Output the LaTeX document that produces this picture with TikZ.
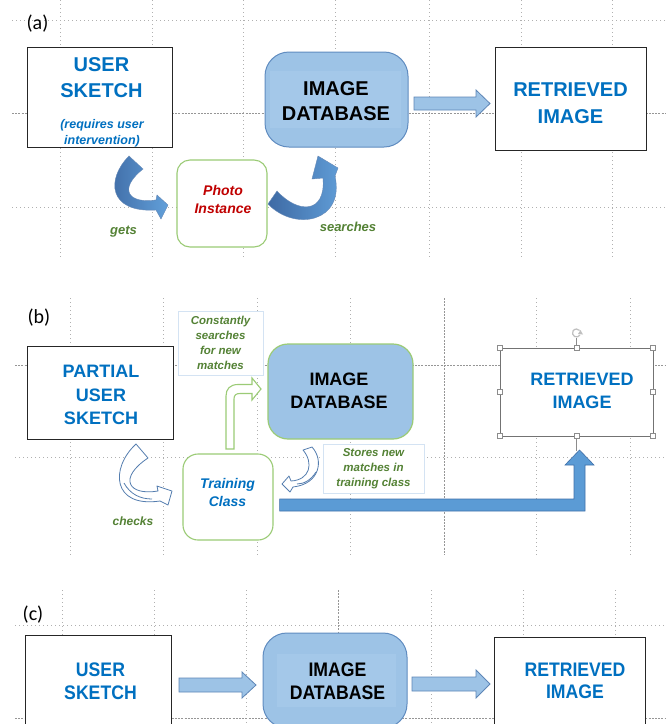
\documentclass[tikz,border=0pt]{standalone}
\usepackage{fontspec}
\setmainfont{Liberation Sans}
\newfontfamily\labelfont{Carlito}
\newfontfamily\narrowsans[FakeStretch=0.9]{Liberation Sans}
\usetikzlibrary{calc}
\definecolor{tblue}{RGB}{0,112,192}
\definecolor{tgreen}{RGB}{84,130,53}
\definecolor{tred}{RGB}{192,0,0}
\definecolor{dbfill}{RGB}{157,195,230}
\definecolor{dbinner}{RGB}{164,200,233}
\definecolor{dbline}{RGB}{96,140,192}
\definecolor{boxgreen}{RGB}{155,203,118}
\definecolor{arrdark}{RGB}{62,106,164}
\definecolor{arrlight}{RGB}{98,160,218}
\definecolor{solidblue}{RGB}{91,155,213}
\definecolor{solidline}{RGB}{65,113,170}
\definecolor{outlineblue}{RGB}{84,125,175}
\definecolor{notebox}{RGB}{212,227,243}
\definecolor{gridgray}{RGB}{150,150,150}

% straight block arrow: start, tip, shaft half height, head half height
\newcommand\blockarrow[4]{%
  \path[flatarrow] let \p1=(#1), \p2=(#2) in
    (\x1,\y1+#3pt) -- (\x2-14pt,\y1+#3pt) -- (\x2-14pt,\y1+#4pt) -- (\x2,\y1)
    -- (\x2-14pt,\y1-#4pt) -- (\x2-14pt,\y1-#3pt) -- (\x1,\y1-#3pt) -- cycle;}

\begin{document}
\begin{tikzpicture}[x=1pt,y=-1pt,
  grid/.style={gridgray!75, line width=0.7pt, dash pattern=on 0.8pt off 3.2pt},
  gridc/.style={gridgray, line width=0.6pt, dash pattern=on 2pt off 1.2pt},
  plainbox/.style={draw=black!85, line width=1pt, fill=white, inner sep=0pt},
  selbox/.style={draw=black!55, line width=1pt, fill=white, inner sep=0pt},
  dbbox/.style={draw=dbline, line width=1pt, fill=dbfill, rounded corners=24pt, inner sep=0pt},
  dbboxg/.style={draw=boxgreen, line width=1.2pt, fill=dbfill, rounded corners=20pt, inner sep=0pt},
  dbin/.style={fill=dbinner, inner sep=0pt},
  greenbox/.style={draw=boxgreen, line width=1.1pt, fill=white, inner sep=0pt},
  notebox/.style={draw=notebox, line width=0.9pt, fill=white, inner sep=0pt},
  captxt/.style={text=tblue, align=center, inner sep=0pt},
  dbtxt/.style={text=black, align=center, inner sep=0pt},
  flatarrow/.style={fill=dbfill, draw=solidline!85, line width=0.8pt, line join=miter},
  curvefill/.style={left color=arrdark, right color=arrlight, draw=arrdark!80, line width=0.4pt},
  curveline/.style={draw=outlineblue, fill=white, line width=0.8pt, line join=round},
  handle/.style={draw=black!45, fill=white, line width=0.5pt},
  handleline/.style={draw=black!45, line width=0.8pt},
  panel/.style={font=\labelfont\fontsize{20}{24}\selectfont, inner sep=0pt}]

\useasboundingbox (0,0) rectangle (666,724);
\fill[white] (0,0) rectangle (666,724);
\clip (0,0) rectangle (666,724);

% ---------- guide lines ----------
\foreach \x in {60,152,243,429,521,612} \draw[grid] (\x,0) -- (\x,258);
\draw[grid] (335,0) -- (335,258);
\foreach \y in {20,207} \draw[grid] (12,\y) -- (666,\y);
\draw[gridc] (12,113) -- (666,113);

\foreach \x in {70,163,257,350,536,630} \draw[grid] (\x,298) -- (\x,555);
\draw[gridc] (444,298) -- (444,555);
\draw[grid] (15,457) -- (666,457);
\draw[gridc] (15,365) -- (666,365);

\foreach \x in {62,154,246,431,523,615} \draw[grid] (\x,590) -- (\x,724);
\draw[gridc] (338,590) -- (338,724);
\draw[grid] (15,625) -- (666,625);
\draw[gridc] (15,718) -- (666,718);

% ---------- (a) ----------
\node[panel] (laba) at (37.5,24) {(a)};

\node[plainbox, minimum width=145pt, minimum height=100pt] (usera) at (99.5,97) {};
\node[captxt, font=\bfseries\fontsize{20}{26}\selectfont] (useratxt) at (101.5,78) {USER\\SKETCH};
\node[captxt, font=\bfseries\itshape\fontsize{12.5}{16}\selectfont] (reqtxt) at (102,133) {(requires user\\intervention)};

\node[dbbox, minimum width=143pt, minimum height=95pt] (dba) at (336.5,99.5) {};
\node[dbin, minimum width=131pt, minimum height=57pt] (dbain) at (335.5,99.5) {};
\node[dbtxt, font=\bfseries\fontsize{20}{25}\selectfont] (dbatxt) at (336,101.5) {IMAGE\\DATABASE};

\node[plainbox, minimum width=151pt, minimum height=103pt] (reta) at (570.5,98.5) {};
\node[captxt, font=\bfseries\fontsize{20}{26.5}\selectfont] (retatxt) at (570.5,103) {RETRIEVED\\IMAGE};

\coordinate (a1s) at (414,103.5);
\coordinate (a1e) at (490,103.5);
\blockarrow{a1s}{a1e}{6.5}{13.5}

\node[greenbox, rounded corners=13pt, minimum width=90pt, minimum height=87pt] (photo) at (222,203.5) {};
\node[text=tred, align=center, inner sep=0pt, font=\bfseries\itshape\fontsize{14}{18.5}\selectfont] (phototxt) at (223,199.5) {Photo\\Instance};

% curved arrow: sketch -> photo instance
\shadedraw[curvefill] (129,156) .. controls (106,179) and (108,213) .. (156,210)
  -- (161,219) -- (168,205) -- (157,195) -- (156,200)
  .. controls (128,204) and (118,189) .. (143,169) -- cycle;
\node[text=tgreen, inner sep=0pt, anchor=base, font=\bfseries\itshape\fontsize{13}{16}\selectfont] (gets) at (123.5,234) {gets};

% curved arrow: photo instance -> database
\shadedraw[curvefill] (277,191) .. controls (298,214) and (326,214) .. (323,178)
  -- (312,179) -- (318,156) -- (338,168) -- (335,176)
  .. controls (345,222) and (295,232) .. (268,204) -- cycle;
\node[text=tgreen, inner sep=0pt, anchor=base, font=\bfseries\itshape\fontsize{13}{16}\selectfont] (searches) at (348,231) {searches};

% ---------- (b) ----------
\node[panel] (labb) at (39,318) {(b)};

\node[plainbox, minimum width=146pt, minimum height=93pt] (userb) at (100,392.5) {};
\node[captxt, font=\bfseries\fontsize{18}{23.5}\selectfont] (userbtxt) at (101,395) {PARTIAL\\USER\\SKETCH};

\node[notebox, minimum width=85pt, minimum height=64pt, text=tgreen, align=center,
  font=\bfseries\itshape\fontsize{11.5}{15}\selectfont] (note1) at (220.5,343)
  {Constantly\\searches\\for new\\matches};

\node[dbboxg, minimum width=145pt, minimum height=95pt] (dbb) at (340.5,391.5) {};
\node[dbtxt, font=\bfseries\fontsize{18}{22.5}\selectfont] (dbbtxt) at (339,391) {IMAGE\\DATABASE};

\node[selbox, minimum width=153pt, minimum height=88pt] (retb) at (576.5,392) {};
\node[captxt, font=\bfseries\fontsize{18}{22.5}\selectfont] (retbtxt) at (582,391) {RETRIEVED\\IMAGE};
% selection handles
\foreach \hx/\hy in {500/348, 576.5/348, 653/348, 500/392, 653/392, 500/436, 576.5/436, 653/436}
  \draw[handle] (\hx-2.6,\hy-2.6) rectangle (\hx+2.6,\hy+2.6);
\draw[handleline] (576.5,337.5) -- (576.5,345.4);
\draw[handleline, line width=1.2pt, draw=black!25] (576.5,333) ++(30:4) arc[start angle=30, end angle=320, radius=4];
\fill[black!25] (580.5,330) -- (583,334.5) -- (578,334) -- cycle;
\draw[handleline] (576.5,438.6) -- (576.5,451);

\node[greenbox, rounded corners=15pt, minimum width=90pt, minimum height=86pt] (train) at (228,497) {};
\node[text=tblue, align=center, inner sep=0pt, font=\bfseries\itshape\fontsize{14}{18}\selectfont] (traintxt) at (227.5,492) {Training\\Class};

\node[notebox, minimum width=101pt, minimum height=49pt, text=tgreen, align=center,
  font=\bfseries\itshape\fontsize{11.5}{15}\selectfont] (note2) at (373.5,468.5)
  {Stores new\\matches in\\training class};

% bent arrow: training class -> database
\draw[draw=boxgreen, fill=white, line width=1.1pt, line join=miter]
  (226,449) -- (226,396) .. controls (226,389) and (230,384.5) .. (238,384.5) -- (252,384.5)
  -- (252,378) -- (261,389) -- (252,400) -- (252,393.5) -- (240,393.5)
  .. controls (236,393.5) and (234,395) .. (234,399) -- (234,449) -- cycle;

% curved arrow: sketch -> training class
\draw[curveline] (136,444) .. controls (110,468) and (112,508) .. (160,501)
  -- (168,505) -- (172,491) -- (157,486) -- (158,491)
  .. controls (128,496) and (118,478) .. (148,458) -- cycle;
\draw[curveline, fill=none] (124,483) .. controls (130,494) and (140,499) .. (152,499);

% curved arrow: database -> training class
\draw[curveline] (312,447) .. controls (324,460) and (320,484) .. (293,487)
  -- (290,492) -- (282,484) -- (289,476) -- (291,481)
  .. controls (310,480) and (314,463) .. (303,450) -- cycle;
\draw[curveline, fill=none] (316,472) .. controls (311,480) and (304,484) .. (297,484);

\node[text=tgreen, inner sep=0pt, anchor=base, font=\bfseries\itshape\fontsize{12}{15}\selectfont] (checks) at (133,525) {checks};

% bent arrow: training class -> retrieved image
\coordinate (bs) at ($(train.east)+(6,0)$);
\draw[fill=solidblue, draw=solidline, line width=0.6pt, line join=miter]
  (bs |- 0,499) -- (574,499) -- (574,465) -- (565,465) -- (579.5,450)
  -- (594,465) -- (585,465) -- (585,511) -- (bs |- 0,511) -- cycle;

% ---------- (c) ----------
\node[panel] (labc) at (33,615) {(c)};

\node[plainbox, minimum width=146pt, minimum height=100pt] (userc) at (98,685) {};
\node[captxt, font=\narrowsans\bfseries\fontsize{19.6}{23}\selectfont] (userctxt) at (100.5,681.5) {USER\\SKETCH};

\node[dbbox, minimum width=144pt, minimum height=95pt] (dbc) at (335,680.5) {};
\node[dbin, minimum width=119pt, minimum height=53pt] (dbcin) at (336.5,680.5) {};
\node[dbtxt, font=\narrowsans\bfseries\fontsize{19.6}{23}\selectfont] (dbctxt) at (337.5,681.5) {IMAGE\\DATABASE};

\node[plainbox, minimum width=151pt, minimum height=103pt] (retc) at (569.5,688.5) {};
\node[captxt, font=\narrowsans\bfseries\fontsize{19.6}{22.5}\selectfont] (retctxt) at (575,681) {RETRIEVED\\IMAGE};

\coordinate (c1s) at (179,685);
\coordinate (c1e) at (256,685);
\blockarrow{c1s}{c1e}{7}{13}
\coordinate (c2s) at (412,684);
\coordinate (c2e) at (490,684);
\blockarrow{c2s}{c2e}{7}{14}

\end{tikzpicture}
\end{document}
